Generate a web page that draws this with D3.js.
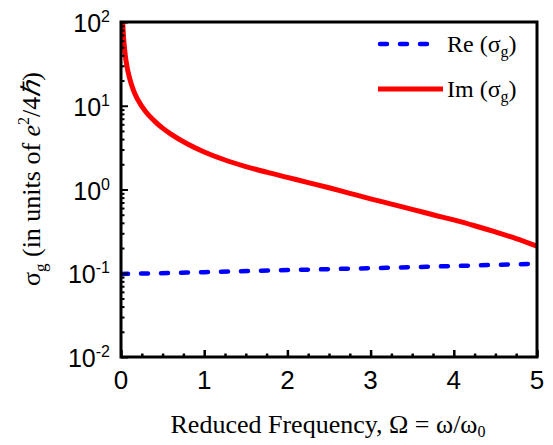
<!DOCTYPE html>
<html>
<head>
<meta charset="utf-8">
<script src="https://cdn.jsdelivr.net/npm/d3@7"></script>
<style>
  html, body { margin: 0; padding: 0; background: #fff; }
  svg { display: block; }
  .serif { font-family: "Liberation Serif", "Times New Roman", serif; }
  .sans { font-family: "Liberation Sans", Arial, sans-serif; }
</style>
</head>
<body>
<svg id="chart" width="553" height="445"></svg>
<script>
// Reduced frequency samples and conductivity components (units of e^2/4ħ)
const omegaIm = [0.02, 0.03, 0.05, 0.075, 0.1, 0.15, 0.2, 0.3, 0.4, 0.5, 0.6, 0.8, 1.0, 1.25, 1.5, 1.75,
                 2.0, 2.25, 2.5, 2.75, 3.0, 3.25, 3.5, 3.75, 4.0, 4.25, 4.5, 4.75, 5.0];
const imSigma = [100, 67, 41, 28.3, 22, 15.3, 11.9, 8.4, 6.6, 5.4, 4.58, 3.49, 2.8, 2.25, 1.88, 1.61,
                 1.395, 1.21, 1.048, 0.90, 0.773, 0.67, 0.58, 0.50, 0.433, 0.369, 0.311, 0.259, 0.21];
const omegaRe = [0, 1, 2, 3, 4, 5];
const reSigma = [0.098, 0.103, 0.109, 0.115, 0.122, 0.13];

const xTicks = [0, 1, 2, 3, 4, 5];
const yTickExponents = [2, 1, 0, -1, -2];

const svg = d3.select("#chart");
const margin = { left: 121, right: 16, top: 22, bottom: 88 };
const W = 553, H = 445;
const x0 = margin.left, x1 = W - margin.right;
const y0 = margin.top, y1 = H - margin.bottom;

const x = d3.scaleLinear().domain([0, 5]).range([x0, x1]);
const y = d3.scaleLog().domain([0.01, 100]).range([y1, y0]);

svg.append("defs").append("clipPath").attr("id", "plot-clip")
  .append("rect").attr("x", x0).attr("y", y0).attr("width", x1 - x0).attr("height", y1 - y0);

// Curves
const line = d3.line().x(d => x(d[0])).y(d => y(d[1])).curve(d3.curveMonotoneX);

const plot = svg.append("g").attr("clip-path", "url(#plot-clip)");
plot.append("path")
  .datum(omegaRe.map((o, i) => [o, reSigma[i]]))
  .attr("d", line)
  .attr("fill", "none")
  .attr("stroke", "#0000ff")
  .attr("stroke-width", 4.5)
  .attr("stroke-linecap", "round")
  .attr("stroke-dasharray", "7,13");

plot.append("path")
  .datum(omegaIm.map((o, i) => [o, imSigma[i]]))
  .attr("d", line)
  .attr("fill", "none")
  .attr("stroke", "#ff0000")
  .attr("stroke-width", 5);

// Axes: inward ticks on bottom and left
const xAxis = d3.axisBottom(x).tickValues(d3.range(0, 5.001, 0.25))
  .tickSize(0).tickFormat("");
const gx = svg.append("g").attr("transform", `translate(0,${y1})`).call(xAxis);
gx.select(".domain").remove();
gx.selectAll(".tick line")
  .attr("y2", d => Math.abs(d - Math.round(d)) < 1e-6 ? -7 : -3.5)
  .attr("stroke", "#000").attr("stroke-width", 2.5);

const yMinor = [];
for (let e = -2; e < 2; e++) for (let m = 1; m < 10; m++) yMinor.push(m * Math.pow(10, e));
yMinor.push(100);
const yAxis = d3.axisLeft(y).tickValues(yMinor).tickSize(0).tickFormat("");
const gy = svg.append("g").attr("transform", `translate(${x0},0)`).call(yAxis);
gy.select(".domain").remove();
gy.selectAll(".tick line")
  .attr("x2", d => {
    const l = Math.log10(d);
    return Math.abs(l - Math.round(l)) < 1e-6 ? 7 : 3.5;
  })
  .attr("stroke", "#000").attr("stroke-width", 2);

// Frame
svg.append("rect")
  .attr("x", x0).attr("y", y0).attr("width", x1 - x0).attr("height", y1 - y0)
  .attr("fill", "none").attr("stroke", "#000").attr("stroke-width", 3);

// Tick labels
svg.append("g").selectAll("text").data(xTicks).join("text")
  .attr("class", "sans")
  .attr("x", d => x(d)).attr("y", y1 + 32)
  .attr("text-anchor", "middle")
  .attr("font-size", 26)
  .text(d => d);

const yl = svg.append("g").selectAll("text").data(yTickExponents).join("text")
  .attr("class", "sans")
  .attr("x", x0 - 11).attr("y", d => y(Math.pow(10, d)) + 10)
  .attr("text-anchor", "end")
  .attr("font-size", 25);
yl.append("tspan").text("10");
yl.append("tspan").attr("font-size", 16).attr("dy", -10).text(d => d < 0 ? "-" + Math.abs(d) : d);

// Axis titles
const xt = svg.append("text")
  .attr("class", "serif")
  .attr("x", 328).attr("y", 433)
  .attr("text-anchor", "middle")
  .attr("font-size", 26);
xt.append("tspan").text("Reduced Frequency, Ω = ω/ω");
xt.append("tspan").attr("font-size", 16).attr("dy", 4).text("0");

const yt = svg.append("text")
  .attr("class", "serif")
  .attr("transform", `translate(40,179) rotate(-90)`)
  .attr("text-anchor", "middle")
  .attr("font-size", 26);
yt.append("tspan").text("σ");
yt.append("tspan").attr("font-size", 17).attr("dy", 6).text("g");
yt.append("tspan").attr("dy", -6).text(" (in units of ");
yt.append("tspan").attr("font-style", "italic").text("e");
yt.append("tspan").attr("font-size", 16).attr("dy", -11).text("2");
yt.append("tspan").attr("dy", 11).text("/4");
yt.append("tspan").attr("font-style", "italic").text("ℏ");
yt.append("tspan").text(")");

// Legend
const legendItems = [
  { label: "Re", color: "#0000ff", dash: "7,13", width: 4.5 },
  { label: "Im", color: "#ff0000", dash: null, width: 5 }
];
const lg = svg.append("g");
legendItems.forEach((it, i) => {
  const cy = 44 + i * 45;
  lg.append("line")
    .attr("x1", i === 0 ? 380 : 378).attr("x2", i === 0 ? 428 : 443)
    .attr("y1", cy).attr("y2", cy)
    .attr("stroke", it.color).attr("stroke-width", it.width)
    .attr("stroke-linecap", it.dash ? "round" : "butt")
    .attr("stroke-dasharray", it.dash);
  const t = lg.append("text")
    .attr("class", "serif")
    .attr("x", 447).attr("y", cy + 8)
    .attr("font-size", 24);
  t.append("tspan").text(it.label + " (σ");
  t.append("tspan").attr("font-size", 16).attr("dy", 5).text("g");
  t.append("tspan").attr("dy", -5).text(")");
});
</script>
</body>
</html>
